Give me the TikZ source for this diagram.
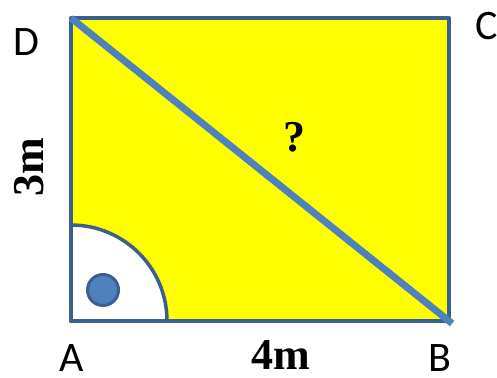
\documentclass[tikz,border=0pt]{standalone}
\usepackage{fontspec}
\setmainfont{Liberation Serif}
\newfontfamily\cornerfont{Carlito}
\usepackage{tikz}
\definecolor{edgeblue}{HTML}{3B5F8E}
\definecolor{diagblue}{HTML}{4F81BD}
\definecolor{boxyellow}{HTML}{FFFF00}
\tikzset{
  corner/.style={font=\cornerfont\fontsize{42}{42}\selectfont, inner sep=0pt},
  side/.style={font=\fontsize{44}{44}\selectfont\bfseries, inner sep=0pt},
}

\begin{document}
\begin{tikzpicture}[x=1pt,y=1pt]
\useasboundingbox (0,0) rectangle (497,377);
\coordinate (A) at (71,56);
\coordinate (B) at (449,56);
\coordinate (C) at (449,359);
\coordinate (D) at (71,359);
\fill[boxyellow] (A) rectangle (C);
\draw[edgeblue, line width=3.5pt, fill=white] (A) -- ++(96,0) arc (0:90:96) -- cycle;
\draw[edgeblue, line width=4pt, line join=round] (A) -- (B) -- (C) -- (D) -- cycle;
\draw[diagblue, line width=7pt, shorten >=-4pt] (D) -- (B);
\node[circle, draw=edgeblue, fill=diagblue, line width=3pt, minimum size=31pt, inner sep=0pt] (dot) at (103,87) {};
% labels
\node[corner] (labD) at (26,335) {D};
\node[corner] (labC) at (487,351) {C};
\node[corner] (labA) at (72,19) {A};
\node[corner] (labB) at (440,19) {B};
\node[side, anchor=base] (lenAB) at (281,8) {4m};
\node[side, rotate=90] (lenAD) at (29,210) {3m};
\node[side] (diag) at (294,240) {?};
\end{tikzpicture}
\end{document}
